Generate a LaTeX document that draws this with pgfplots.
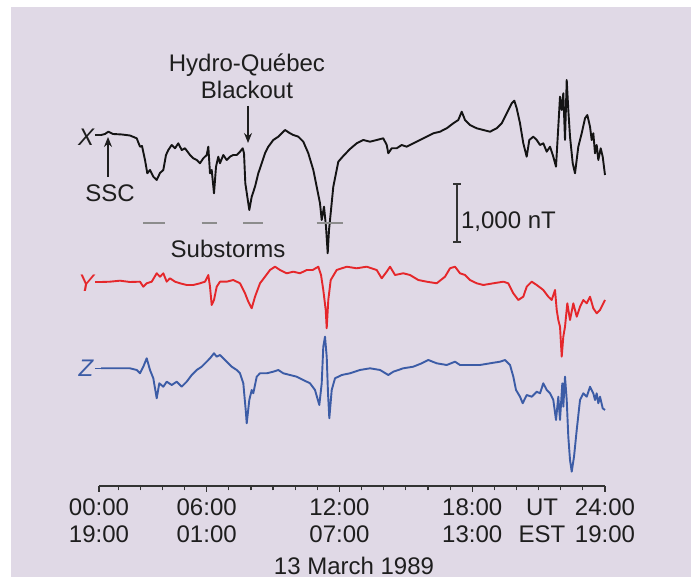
\documentclass[border=0pt]{standalone}
\usepackage{pgfplots}
\pgfplotsset{compat=1.18}
\usepackage{fontspec}
\setmainfont{Liberation Sans}
\usetikzlibrary{arrows.meta}
\definecolor{bgpanel}{HTML}{E0D9E6}
\definecolor{traceX}{HTML}{141414}
\definecolor{traceY}{HTML}{E5272B}
\definecolor{traceZ}{HTML}{3C5CA6}
\definecolor{subgray}{HTML}{8C8C8C}
\definecolor{txt}{HTML}{1E1E1E}
\newcommand{\lab}{\fontsize{12}{13.5}\selectfont}

\begin{document}
\begin{tikzpicture}
% lavender panel, white strip on the left and at the top
\fill[bgpanel] (5.5pt,0pt) rectangle (345.5pt,285pt);
\begin{axis}[
    at={(49.5pt,45.5pt)}, anchor=south west,
    scale only axis, width=253pt, height=239.5pt,
    xmin=1.134, xmax=24, ymin=0, ymax=479,
    axis x line*=bottom, axis y line=none,
    axis line style={-, black!80, line width=0.65pt},
    xtick={1.134,6,12,18,24},
    xticklabels={{00:00\\19:00},{06:00\\01:00},{12:00\\07:00},{18:00\\13:00},{24:00\\19:00}},
    minor xtick={2,3,4,5,7,8,9,10,11,13,14,15,16,17,19,20,21,22,23},
    tick align=outside, major tick length=3pt, minor tick length=2.2pt,
    tick style={black!80, line width=0.6pt},
    xticklabel style={align=center, font=\lab, text=txt},
    extra x ticks={21.154}, extra x tick labels={{UT\\EST}},
    extra x tick style={major tick style={draw=none}},
    clip=false,
]
% X component
\addplot[traceX, line width=0.95pt, line join=round, mark=none] coordinates {
(1.225,351)(1.405,352)(1.555,354.3)(1.767,352)(2.174,351.5)(2.535,350.5)(2.838,347.7)(2.987,339.3)(3.077,340)(3.213,326)(3.317,312.7)(3.439,316)(3.588,309.3)(3.742,306)(3.891,313)(4.040,316)(4.162,331)(4.266,336)(4.420,341)(4.569,337.7)(4.718,342.7)(4.871,336)(5.021,337.7)(5.247,331)(5.396,327.7)(5.549,326)(5.698,322.7)(5.848,327.7)(6.001,331)(6.074,339.3)(6.150,312.7)(6.227,316)(6.331,292.7)(6.422,319.3)(6.525,329.3)(6.602,322.7)(6.751,331)(6.905,326)(7.054,329.3)(7.203,331)(7.357,331)(7.506,334.3)(7.628,337.7)(7.687,332.7)(7.746,302.7)(7.836,289.3)(7.926,276)(8.035,289.3)(8.184,299.3)(8.333,312.7)(8.487,322.7)(8.636,332.7)(8.785,339.3)(9.011,346)(9.237,349.3)(9.391,352.7)(9.540,356)(9.766,352.7)(9.915,351)(10.141,349.3)(10.367,344.3)(10.593,332.7)(10.819,316)(10.972,299.3)(11.121,282.7)(11.198,266)(11.302,279.3)(11.392,259.3)(11.469,232.7)(11.528,256)(11.596,271)(11.722,299.3)(11.948,324.3)(12.174,330)(12.477,337)(12.780,342.7)(13.078,346)(13.381,344.3)(13.684,346)(13.982,347.7)(14.135,341)(14.208,332.7)(14.361,337.7)(14.587,337.7)(14.813,341)(15.039,339.3)(15.338,342.7)(15.640,346)(15.943,349.3)(16.241,352.7)(16.544,354.3)(16.847,357.7)(17.145,362.7)(17.371,366)(17.525,374.3)(17.674,366)(17.900,361)(18.203,357.7)(18.501,356)(18.804,354.3)(19.106,357.7)(19.332,362.7)(19.558,372.7)(19.784,382.7)(19.902,385.3)(20.010,377.7)(20.159,362.7)(20.308,342.7)(20.462,329.3)(20.579,346)(20.760,349.3)(20.914,346)(21.063,341)(21.212,342.7)(21.366,334.3)(21.515,339.3)(21.664,329.3)(21.786,319.3)(21.890,359.3)(21.967,389.3)(22.044,376)(22.116,392.7)(22.193,346)(22.270,406)(22.342,376)(22.419,349.3)(22.541,322.7)(22.645,312.7)(22.794,339.3)(22.947,352.7)(23.097,367.7)(23.201,371)(23.323,359.3)(23.399,346)(23.472,352.7)(23.549,332.7)(23.625,341)(23.698,326)(23.806,337.7)(23.896,329.3)(24.000,311)
};
% Y component
\addplot[traceY, line width=0.95pt, line join=round, mark=none] coordinates {
(1.225,204)(1.631,204.3)(2.083,205.3)(2.535,204)(2.987,204.3)(3.136,199.3)(3.290,202.7)(3.516,204.3)(3.742,212.7)(3.891,209.3)(4.040,212.7)(4.194,204.3)(4.343,207.7)(4.569,204.3)(4.795,202.7)(5.097,201)(5.396,201)(5.698,202.7)(5.924,204.3)(6.074,211)(6.150,199.3)(6.227,181)(6.331,186)(6.453,199.3)(6.602,204.3)(6.905,204.3)(7.203,206)(7.506,202.7)(7.732,192.7)(7.881,184.3)(8.035,177.7)(8.184,189.3)(8.410,202.7)(8.636,209.3)(8.862,216)(9.088,219.3)(9.314,216)(9.616,212.7)(9.915,214.3)(10.217,212.7)(10.520,216)(10.791,216)(11.045,219.3)(11.167,211)(11.270,196)(11.379,176)(11.424,157.7)(11.496,186)(11.605,206)(11.876,216)(12.328,219.3)(12.780,217.7)(13.232,219.3)(13.684,216)(13.910,207.7)(14.135,214.3)(14.285,219.3)(14.511,211)(14.886,212.7)(15.188,211)(15.563,206)(15.943,204.3)(16.395,202.7)(16.770,209.3)(16.996,217.7)(17.222,219.3)(17.448,212.7)(17.674,211)(17.900,206)(18.203,202.7)(18.501,201)(18.953,202.7)(19.405,204.3)(19.631,202.7)(19.857,192.7)(20.082,186)(20.308,189.3)(20.462,199.3)(20.688,204.3)(20.914,201)(21.212,196)(21.438,189.3)(21.592,186)(21.741,196)(21.818,176)(21.890,166)(21.967,159.3)(22.044,129.3)(22.116,149.3)(22.193,159.3)(22.297,182.7)(22.419,166)(22.568,182.7)(22.722,169.3)(22.871,179.3)(23.020,186)(23.174,182.7)(23.323,189.3)(23.472,177.7)(23.625,172.7)(23.775,176)(23.924,182.7)(24.000,186)
};
% Z component
\addplot[traceZ, line width=0.95pt, line join=round, mark=none] coordinates {
(1.225,117.7)(1.857,117.7)(2.535,117.7)(2.838,116)(2.987,112.7)(3.136,119.3)(3.290,127.7)(3.439,116)(3.588,107.7)(3.742,87.7)(3.859,102.7)(4.040,99.3)(4.194,104.3)(4.420,101)(4.646,104.3)(4.871,99.3)(5.097,104.3)(5.323,111)(5.549,116)(5.775,119.3)(6.001,124.3)(6.150,127.7)(6.331,132.7)(6.453,129.3)(6.602,131)(6.751,127.7)(6.905,124.3)(7.131,119.3)(7.357,116)(7.506,112.7)(7.655,102.7)(7.764,76)(7.809,62.7)(7.926,86)(8.035,96)(8.107,92.7)(8.261,109.3)(8.410,112.7)(8.713,112.7)(9.011,114.3)(9.237,116)(9.463,112.7)(9.766,111)(10.068,109.3)(10.367,106)(10.669,102.7)(10.895,96)(11.090,81)(11.198,102.7)(11.270,139.3)(11.347,149.3)(11.424,129.3)(11.483,92.7)(11.542,67.7)(11.650,96)(11.799,107.7)(12.102,111)(12.477,112.7)(12.929,116)(13.381,117.7)(13.833,116)(14.208,111)(14.434,114.3)(14.886,117.7)(15.338,119.3)(15.717,122.7)(16.016,126)(16.395,122.7)(16.847,121)(17.222,124.3)(17.448,121)(17.900,121)(18.352,121)(18.804,122.7)(19.256,124.3)(19.482,126)(19.708,121)(19.857,109.3)(19.979,96)(20.159,89.3)(20.281,82.7)(20.462,91)(20.688,89.3)(20.914,94.3)(21.063,92.7)(21.212,102.7)(21.366,96)(21.515,92.7)(21.664,86)(21.786,66)(21.890,89.3)(21.967,66)(22.071,102.7)(22.116,79.3)(22.193,109.3)(22.270,86)(22.342,49.3)(22.419,26)(22.496,14.3)(22.600,29.3)(22.722,56)(22.871,86)(23.020,92.7)(23.174,89.3)(23.323,99.3)(23.472,92.7)(23.549,86)(23.625,92.7)(23.698,82.7)(23.775,89.3)(23.896,77.7)(24.000,76)
};
% component labels
\node[font=\lab\itshape, text=txt] at (axis cs:0.547,349) {X};
\draw[txt, line width=0.6pt] (axis cs:0.95,351) -- (axis cs:1.225,351);
\node[font=\lab\itshape, text=traceY] at (axis cs:0.547,203) {Y};
\draw[traceY, line width=0.6pt] (axis cs:0.95,204) -- (axis cs:1.225,204);
\node[font=\lab\itshape, text=traceZ] at (axis cs:0.547,118) {Z};
\draw[traceZ, line width=0.6pt] (axis cs:0.95,117.7) -- (axis cs:1.225,117.7);
% SSC
\draw[-{Stealth[length=5pt,width=4pt]}, txt, line width=0.6pt] (axis cs:1.541,309) -- (axis cs:1.541,349);
\node[font=\lab, text=txt] at (axis cs:1.632,293) {SSC};
% blackout
\node[font=\lab, text=txt, align=center] at (axis cs:7.82,410) {Hydro-Québec\\Blackout};
\draw[-{Stealth[length=5pt,width=4pt]}, txt, line width=0.6pt] (axis cs:7.868,380) -- (axis cs:7.868,343);
% substorms
\draw[subgray, line width=1pt] (axis cs:3.136,262.7) -- (axis cs:4.117,262.7);
\draw[subgray, line width=1pt] (axis cs:5.775,262.7) -- (axis cs:6.453,262.7);
\draw[subgray, line width=1pt] (axis cs:7.655,262.7) -- (axis cs:8.559,262.7);
\draw[subgray, line width=1pt] (axis cs:10.972,262.7) -- (axis cs:12.174,262.7);
\node[font=\lab, text=txt] at (axis cs:6.967,237.5) {Substorms};
% scale bar
\draw[{Bar[width=4pt]}-{Bar[width=4pt]}, line width=0.9pt, black!80] (axis cs:17.326,243.3) -- (axis cs:17.326,302.7);
\node[font=\lab, text=txt, anchor=west, inner sep=0pt] at (axis cs:17.48,264) {1,000 nT};
% date
\node[font=\lab, text=txt] at (axis cs:12.658,-80) {13 March 1989};
\end{axis}
\pgfresetboundingbox
\useasboundingbox (0pt,0pt) rectangle (345.5pt,288.5pt);
\end{tikzpicture}
\end{document}
